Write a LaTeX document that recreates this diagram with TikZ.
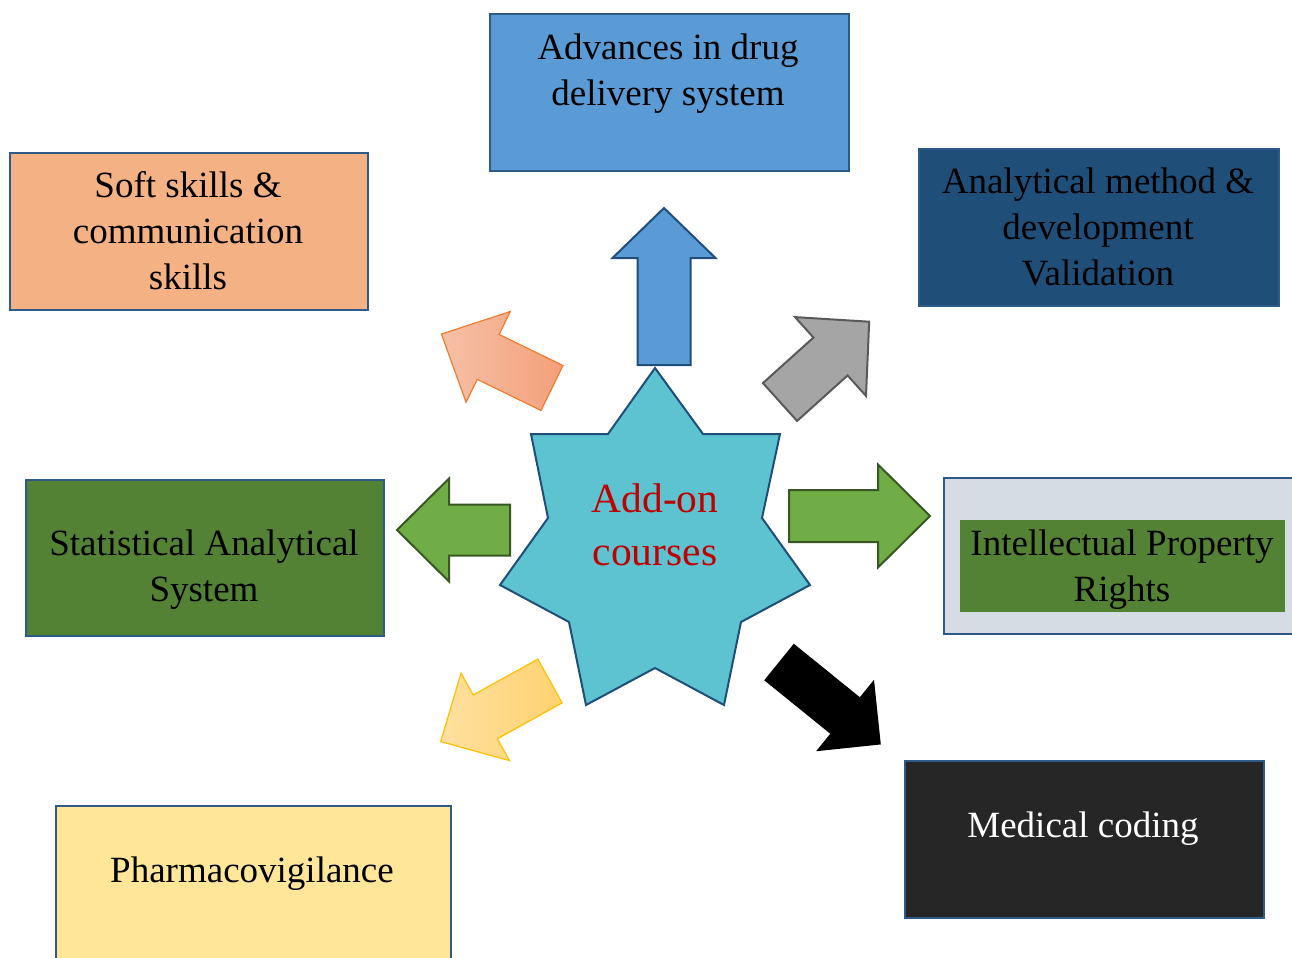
\documentclass[tikz,border=0pt]{standalone}
\usepackage{fontspec}
\setmainfont{Liberation Serif}
\usetikzlibrary{positioning}

\definecolor{cardline}{HTML}{2E5A88}
\definecolor{skyblue}{HTML}{5B9BD5}
\definecolor{peach}{HTML}{F4B183}
\definecolor{navy}{HTML}{1F4E79}
\definecolor{leaf}{HTML}{548235}
\definecolor{lightleaf}{HTML}{70AD47}
\definecolor{darkleaf}{HTML}{385723}
\definecolor{mist}{HTML}{D6DCE4}
\definecolor{coal}{HTML}{262626}
\definecolor{butter}{HTML}{FFE699}
\definecolor{teal}{HTML}{5EC3D1}
\definecolor{addred}{HTML}{C00000}

\tikzset{
  card/.style={draw=cardline, line width=1pt, rectangle, anchor=north west, inner sep=0pt},
  cardtext/.style={align=center, font=\fontsize{18.5}{23}\selectfont},
}

% block arrow: style, base, angle, length, shaft width, head width, head length
\newcommand\blockarrow[7]{%
\scope[shift={#2}, rotate=#3]
\path[#1] (0,-#5/2) -- (#4-#7,-#5/2) -- (#4-#7,-#6/2) -- (#4,0)
  -- (#4-#7,#6/2) -- (#4-#7,#5/2) -- (0,#5/2) -- cycle;
\endscope}

\begin{document}
\begin{tikzpicture}[x=0.5pt, y=-0.5pt, line join=miter]
\useasboundingbox (0,0) rectangle (1292,958);

% boxes
\node[card, fill=skyblue, minimum width=179.5pt, minimum height=78.5pt] (adv) at (489,13) {};
\node[card, fill=peach, minimum width=179pt, minimum height=78.5pt] (soft) at (9,152) {};
\node[card, fill=navy, minimum width=180pt, minimum height=78.5pt] (anal) at (918,148) {};
\node[card, fill=leaf, minimum width=179pt, minimum height=78pt] (stat) at (25,479) {};
\node[card, fill=mist, minimum width=185pt, minimum height=78pt] (ipr) at (943,477) {};
\node[rectangle, fill=leaf, anchor=north west, inner sep=0pt,
      minimum width=162.5pt, minimum height=46pt] (iprin) at (960,520) {};
\node[card, fill=coal, minimum width=179.5pt, minimum height=78.5pt] (med) at (904,760) {};
\node[card, fill=butter, minimum width=197.5pt, minimum height=90pt] (pv) at (55,805) {};

% texts
\node[cardtext] at (668,74) {Advances in drug\\delivery system};
\node[cardtext] at (188,231) {Soft skills \&\\communication\\skills};
\node[cardtext] at (1098,227) {Analytical method \&\\development\\Validation};
\node[cardtext] at (204,570) {Statistical Analytical\\System};
\node[cardtext] at (1122,570) {Intellectual Property\\Rights};
\node[cardtext, text=white] at (1083,829) {Medical coding};
\node[cardtext] at (252,874) {Pharmacovigilance};

% star
\draw[fill=teal, draw=navy, line width=1pt]
  (655,368) -- (703,434) -- (780,434) -- (762,518) -- (810,585) -- (741,622)
  -- (724,705) -- (655,668) -- (586,705) -- (569,622) -- (500,585) -- (548,518)
  -- (531,434) -- (608,434) -- cycle;
\node[align=center, text=addred, font=\fontsize{20.75}{26.5}\selectfont] (hub) at (655,525) {Add-on\\courses};

% arrows
\blockarrow{fill=skyblue, draw=navy, line width=1pt}{(664,365)}{90}{157}{53}{103}{50}
\blockarrow{fill=lightleaf, draw=darkleaf, line width=1pt}{(510,530)}{180}{113}{51}{103}{52}
\blockarrow{fill=lightleaf, draw=darkleaf, line width=1pt}{(789,516)}{0}{141}{52}{103}{52}
\blockarrow{fill={rgb,255:red,165;green,165;blue,165}, draw={rgb,255:red,89;green,89;blue,89}, line width=1pt}{(780,402)}{42}{120}{51}{106}{52}
\blockarrow{fill=black}{(779,662)}{-39}{131}{47}{92}{46}
\blockarrow{right color={rgb,255:red,244;green,160;blue,122}, left color={rgb,255:red,246;green,192;blue,166}, draw={rgb,255:red,237;green,125;blue,49}, line width=0.6pt}{(552,388)}{154}{123}{50}{101}{52}
\blockarrow{right color={rgb,255:red,255;green,210;blue,112}, left color={rgb,255:red,255;green,224;blue,160}, draw={rgb,255:red,255;green,192;blue,0}, line width=0.6pt}{(550,681)}{209}{125}{50}{100}{51}
\end{tikzpicture}
\end{document}
